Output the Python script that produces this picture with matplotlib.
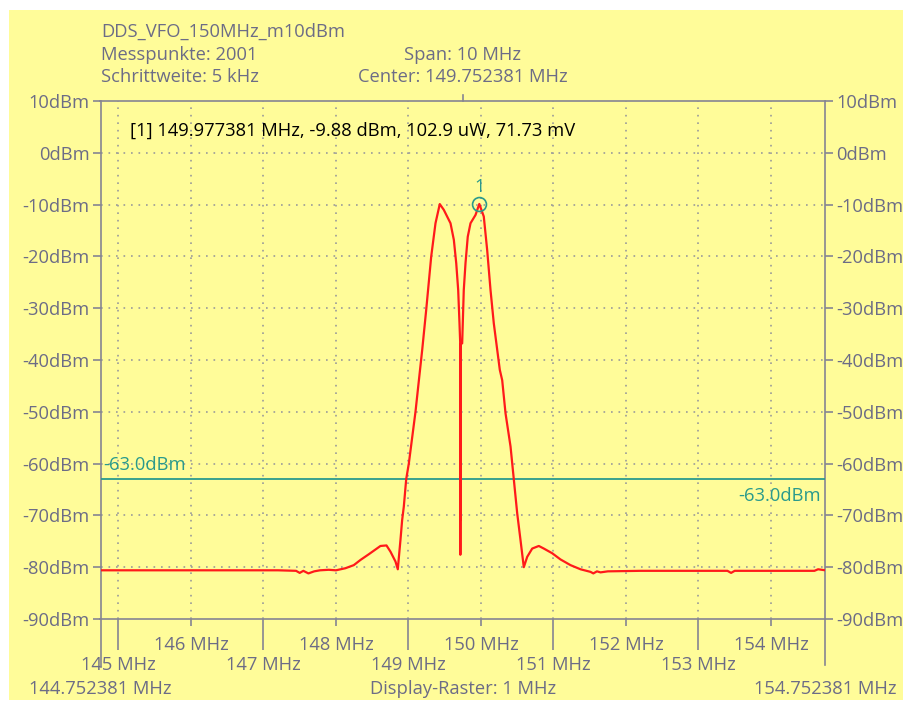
import matplotlib
matplotlib.use("Agg")
import matplotlib.pyplot as plt
from matplotlib.patches import Rectangle
from matplotlib.lines import Line2D

# ---------------- data ----------------
f_start = 144.752381
f_stop = 154.752381
f_center = 149.752381

freq_mhz = [
    144.752, 145.3, 146.0, 146.6, 147.2, 147.45, 147.5, 147.55, 147.62, 147.7, 147.78, 147.9, 148.0,
    148.13, 148.246, 148.338, 148.453, 148.614, 148.697, 148.752, 148.821, 148.853,
    148.89, 148.913, 148.936, 148.969, 149.005, 149.097, 149.134, 149.19, 149.245,
    149.314, 149.373, 149.432, 149.487, 149.58, 149.626, 149.659, 149.686, 149.704,
    149.714, 149.716, 149.718, 149.720, 149.722, 149.741, 149.763, 149.787, 149.818,
    149.856, 149.925, 149.977381, 150.039, 150.086, 150.132, 150.177, 150.224, 150.26,
    150.293, 150.339, 150.408, 150.453, 150.5, 150.545, 150.591, 150.638, 150.707,
    150.798, 150.867, 150.982, 151.097, 151.235, 151.373, 151.511, 151.55, 151.6, 151.649,
    151.75, 152.2, 152.8, 153.4, 153.45, 153.5, 154.0, 154.6, 154.65, 154.752,
]
level_dbm = [
    -80.6, -80.6, -80.6, -80.6, -80.6, -80.7, -81.1, -80.7, -81.2, -80.8, -80.6, -80.5, -80.6,
    -80.2, -79.6, -78.6, -77.5, -75.9, -75.8, -77.0, -78.9, -80.4,
    -74.7, -70.9, -68.3, -63.0, -60.0, -50.0, -45.2, -38.0, -30.3,
    -20.0, -13.6, -9.9, -11.0, -13.6, -16.8, -21.3, -26.5, -32.9,
    -36.8, -77.6, -40.0, -70.9, -36.8, -36.8, -26.5, -21.3, -16.2,
    -13.6, -12.0, -9.88, -12.3, -18.8, -26.5, -32.9, -38.0, -41.9,
    -43.9, -50.3, -56.7, -63.0, -69.6, -74.7, -80.0, -78.0, -76.4,
    -75.9, -76.4, -77.3, -78.5, -79.6, -80.4, -80.9, -81.2, -80.8, -81.0,
    -80.8, -80.7, -80.7, -80.7, -81.1, -80.7, -80.7, -80.7, -80.4, -80.6,
]

marker_freq = 149.977381
marker_level = -9.88
threshold_dbm = -63.0

y_ticks = [10, 0, -10, -20, -30, -40, -50, -60, -70, -80, -90]
y_labels = ["10dBm", "0dBm", "-10dBm", "-20dBm", "-30dBm", "-40dBm", "-50dBm",
            "-60dBm", "-70dBm", "-80dBm", "-90dBm"]
x_major = [145, 147, 149, 151, 153]
x_major_labels = ["145 MHz", "147 MHz", "149 MHz", "151 MHz", "153 MHz"]
x_minor = [146, 148, 150, 152, 154]
x_minor_labels = ["146 MHz", "148 MHz", "150 MHz", "152 MHz", "154 MHz"]

title_lines = ["DDS_VFO_150MHz_m10dBm", "Messpunkte: 2001", "Schrittweite: 5 kHz"]
center_lines = ["Span: 10 MHz", "Center: 149.752381 MHz"]
marker_text = "[1] 149.977381 MHz, -9.88 dBm, 102.9 uW, 71.73 mV"

# ---------------- style ----------------
W, H = 904, 705
BG = "#FFFC99"
TXT = "#6C6C86"
AX = "#858592"
RED = "#FF1A1A"
TEAL = "#2A9A8C"
FONT = "Open Sans"
FS = 13.2

plt.rcParams["font.family"] = [FONT, "DejaVu Sans"]

fig = plt.figure(figsize=(W / 100, H / 100), dpi=100, facecolor="white")
fig.add_artist(Rectangle((9 / W, 5 / H), (W - 9) / W, (H - 15) / H,
                         transform=fig.transFigure, facecolor=BG, edgecolor="none", zorder=-10))

L, R, T, B = 100.5, 825.5, 101, 619
ax = fig.add_axes([L / W, 1 - B / H, (R - L) / W, (B - T) / H])
ax.set_facecolor(BG)
ax.set_xlim(f_start, f_stop)
ax.set_ylim(-90, 10)

for s in ax.spines.values():
    s.set_color(AX)
    s.set_linewidth(1.2)

# grid
for x in range(145, 155):
    ax.axvline(x, color="#9a9a9a", lw=1.2, ls=(0, (1, 3.5)), zorder=1)
for y in y_ticks[1:-1]:
    ax.axhline(y, color="#9a9a9a", lw=1.2, ls=(0, (1, 3.5)), zorder=1)

# y ticks both sides
ax.set_yticks(y_ticks)
ax.set_yticklabels(y_labels)
ax.tick_params(axis="y", which="major", direction="out", length=6, width=1.2, color=AX,
               labelcolor=TXT, labelsize=FS, pad=2, left=True, right=True,
               labelleft=True, labelright=True)

# x ticks: long (odd) and short (even)
ax.set_xticks(x_major)
ax.set_xticklabels(x_major_labels)
ax.set_xticks(x_minor, minor=True)
ax.set_xticklabels(x_minor_labels, minor=True)
ax.tick_params(axis="x", which="major", direction="out", length=22, width=1.2, color=AX,
               labelcolor=TXT, labelsize=FS, pad=4.5)
ax.tick_params(axis="x", which="minor", direction="out", length=5, width=1.2, color=AX,
               labelcolor=TXT, labelsize=FS, pad=7)

# extended axis lines below and top center tick
ax.add_line(Line2D([0, 0], [0, -(667 - B) / (B - T)], transform=ax.transAxes,
                   color=AX, lw=1.2, clip_on=False))
ax.add_line(Line2D([1, 1], [0, -(665 - B) / (B - T)], transform=ax.transAxes,
                   color=AX, lw=1.2, clip_on=False))
cx = (f_center - f_start) / (f_stop - f_start)
ax.add_line(Line2D([cx, cx], [1, 1 + 6 / (B - T)], transform=ax.transAxes,
                   color=AX, lw=1.2, clip_on=False))

# trace
ax.plot(freq_mhz, level_dbm, color=RED, lw=1.6, zorder=4)

# threshold
ax.axhline(threshold_dbm, color=TEAL, lw=1.3, zorder=3)
ax.text(0.004, threshold_dbm + 1.0, "-63.0dBm", transform=ax.get_yaxis_transform(),
        color=TEAL, fontsize=FS, ha="left", va="bottom", zorder=5)
ax.text(0.993, threshold_dbm - 1.5, "-63.0dBm", transform=ax.get_yaxis_transform(),
        color=TEAL, fontsize=FS, ha="right", va="top", zorder=5)

# marker
ax.plot([marker_freq], [marker_level], marker="o", ms=10, mfc="none", mec=TEAL, mew=1.2, zorder=6)
ax.annotate("1", (marker_freq, marker_level), xytext=(0, 6), textcoords="offset points",
            ha="center", va="bottom", color=TEAL, fontsize=FS)
ax.text(30 / (R - L), 1 - 30 / (B - T), marker_text, transform=ax.transAxes,
        color="black", fontsize=FS, ha="left", va="center")

# header text
for i, t in enumerate(title_lines):
    fig.text(101 / W, 1 - (32 + i * 22.5) / H, t, color=TXT, fontsize=FS, ha="left", va="center")
cx_px = L + cx * (R - L)
for i, t in enumerate(center_lines):
    fig.text(cx_px / W, 1 - (55 + i * 22.5) / H, t, color=TXT, fontsize=FS, ha="center", va="center")

# bottom labels
fig.text(100 / W, 1 - 689 / H, "144.752381 MHz", color=TXT, fontsize=FS, ha="center", va="center")
fig.text(cx_px / W, 1 - 689 / H, "Display-Raster: 1 MHz", color=TXT, fontsize=FS, ha="center", va="center")
fig.text(825 / W, 1 - 689 / H, "154.752381 MHz", color=TXT, fontsize=FS, ha="center", va="center")

fig.savefig("out.png", dpi=100, facecolor="white")
